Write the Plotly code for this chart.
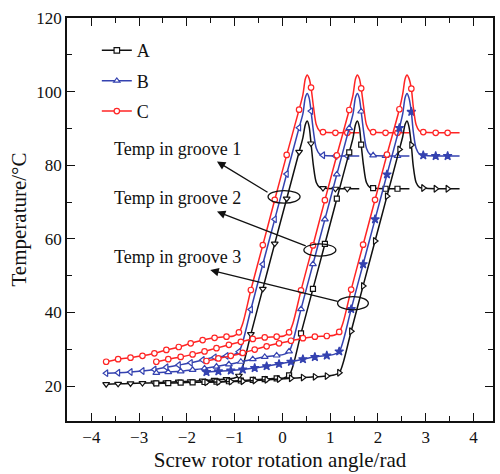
import plotly.graph_objects as go

# ---------------- data ----------------
# marker positions, groove 1/2/3 (rotation angle, rad)
X1 = [-3.69, -3.44, -3.18, -2.93, -2.68, -2.43, -2.17, -1.92, -1.67, -1.42, -1.17,
      -0.91, -0.66, -0.41, -0.16, 0.09, 0.35, 0.60, 0.85, 1.11, 1.36]
X2 = [-2.64, -2.39, -2.13, -1.88, -1.63, -1.38, -1.12, -0.87, -0.62, -0.37, -0.12,
      0.14, 0.39, 0.64, 0.89, 1.14, 1.40, 1.65, 1.90, 2.16, 2.41]
X3 = [-1.59, -1.34, -1.08, -0.83, -0.58, -0.33, -0.07, 0.18, 0.43, 0.68, 0.93,
      1.19, 1.44, 1.69, 1.94, 2.19, 2.45, 2.70, 2.95, 3.21, 3.46]

# temperatures at the markers (degC)
A1 = [20.5, 20.6, 20.7, 20.8, 20.9, 21.0, 21.2, 21.3, 21.5, 21.7, 21.9,
      22.8, 34.1, 46.4, 58.7, 70.9, 83.6, 85.9, 73.8, 73.6, 73.6]
B1 = [23.5, 23.6, 23.8, 24.1, 24.5, 25.1, 25.7, 26.3, 27.1, 27.8, 28.2,
      29.3, 40.8, 53.1, 65.3, 77.6, 90.2, 94.7, 82.7, 82.5, 82.5]
C1 = [26.6, 27.3, 27.7, 28.2, 28.9, 29.8, 30.6, 31.6, 32.5, 33.1, 33.4,
      34.6, 46.1, 58.3, 70.6, 82.8, 95.1, 101.1, 89.0, 88.8, 88.8]

A2 = [20.7, 20.8, 20.9, 21.0, 21.1, 21.2, 21.3, 21.5, 21.7, 21.9, 22.1,
      22.9, 34.3, 46.4, 58.6, 70.9, 83.5, 85.6, 73.8, 73.6, 73.6]
B2 = [23.6, 23.8, 24.0, 24.4, 24.8, 25.3, 25.9, 26.6, 27.3, 27.9, 28.3,
      29.4, 40.9, 53.1, 65.3, 77.5, 90.1, 94.6, 82.7, 82.5, 82.5]
C2 = [26.6, 27.3, 27.9, 28.6, 29.4, 30.3, 31.2, 32.0, 32.8, 33.2, 33.4,
      34.6, 46.0, 58.2, 70.5, 82.7, 95.0, 100.9, 89.0, 88.8, 88.8]

A3 = [21.0, 21.1, 21.2, 21.3, 21.5, 21.7, 21.9, 22.1, 22.3, 22.5, 22.7,
      23.6, 34.9, 47.2, 59.4, 71.6, 84.3, 85.5, 73.8, 73.6, 73.6]
B3 = [23.8, 24.0, 24.2, 24.5, 24.9, 25.4, 26.0, 26.6, 27.3, 27.9, 28.3,
      29.4, 40.9, 53.1, 65.3, 77.5, 90.1, 94.5, 82.7, 82.5, 82.5]
C3 = [26.8, 27.5, 28.2, 29.0, 29.9, 30.8, 31.6, 32.3, 33.0, 33.4, 33.6,
      34.7, 46.2, 58.4, 70.6, 82.9, 95.2, 100.8, 89.0, 88.8, 88.8]

# extra curve points without markers (knee, peak, end of each groove curve)
S1 = [-1.02, -0.83, 0.43, 0.48, 0.52, 0.56, 0.65, 0.71, 0.78, 1.61]
S2 = [0.03, 0.22, 1.48, 1.53, 1.57, 1.61, 1.70, 1.76, 1.83, 2.66]
S3 = [1.08, 1.27, 2.52, 2.57, 2.61, 2.65, 2.74, 2.80, 2.87, 3.71]
A1s = [22.1, 25.3, 87.5, 91.0, 92.0, 90.5, 79.8, 75.3, 74.0, 73.6]
B1s = [28.5, 32.0, 94.0, 98.4, 99.5, 98.3, 89.2, 84.6, 83.0, 82.5]
C1s = [33.6, 37.0, 99.2, 103.4, 104.5, 103.6, 96.0, 91.0, 89.3, 88.8]
A2s = [22.2, 25.4, 87.5, 91.0, 92.0, 90.5, 79.8, 75.3, 74.0, 73.6]
B2s = [28.6, 32.1, 94.0, 98.4, 99.5, 98.3, 89.2, 84.6, 83.0, 82.5]
C2s = [33.6, 37.0, 99.2, 103.4, 104.5, 103.6, 96.0, 91.0, 89.3, 88.8]
A3s = [23.0, 26.2, 87.8, 91.1, 92.0, 90.5, 79.8, 75.3, 74.0, 73.6]
B3s = [28.6, 32.1, 94.0, 98.4, 99.5, 98.3, 89.2, 84.6, 83.0, 82.5]
C3s = [33.8, 37.2, 99.4, 103.5, 104.5, 103.6, 96.0, 91.0, 89.3, 88.8]

series_names = ["A", "B", "C"]
groove_labels = ["Temp in groove 1", "Temp in groove 2", "Temp in groove 3"]
x_ticks = [-4, -3, -2, -1, 0, 1, 2, 3, 4]
y_ticks = [20, 40, 60, 80, 100, 120]

# ---------------- styling ----------------
BLACK = "#111111"
BLUE = "#3442b0"
RED = "#ff2424"
FONT = "Liberation Serif"

fig = go.Figure()


def add_curve(xm, ym, xs, ys, color, symbol, msize, mfill):
    pts = sorted(zip(list(xm) + list(xs), list(ym) + list(ys)))
    fig.add_trace(go.Scatter(
        x=[p[0] for p in pts], y=[p[1] for p in pts], mode="lines",
        line=dict(color=color, width=1.5, shape="spline", smoothing=0.8),
        showlegend=False, hoverinfo="skip"))
    fig.add_trace(go.Scatter(
        x=xm, y=ym, mode="markers",
        marker=dict(symbol=symbol, size=msize, color=mfill,
                    line=dict(color=color, width=1.2)),
        showlegend=False))


curves = [
    (X1, A1, S1, A1s, BLACK, "triangle-down", 6, "white"),
    (X1, B1, S1, B1s, BLUE, "triangle-left", 6, "white"),
    (X1, C1, S1, C1s, RED, "circle", 5.5, "white"),
    (X2, A2, S2, A2s, BLACK, "square", 5, "white"),
    (X2, B2, S2, B2s, BLUE, "triangle-up", 6, "white"),
    (X2, C2, S2, C2s, RED, "circle", 5.5, "white"),
    (X3, A3, S3, A3s, BLACK, "triangle-right", 6, "white"),
    (X3, B3, S3, B3s, BLUE, "star", 6.5, BLUE),
    (X3, C3, S3, C3s, RED, "circle", 5.5, "white"),
]
for c in curves:
    add_curve(*c)

# legend entries
for name, color, symbol in zip(series_names, [BLACK, BLUE, RED],
                               ["square", "triangle-up", "circle"]):
    fig.add_trace(go.Scatter(
        x=[None], y=[None], mode="lines+markers", name=name, legendgroup=name,
        line=dict(color=color, width=1.5),
        marker=dict(symbol=symbol, size=5.5, color="white",
                    line=dict(color=color, width=1.2))))

# ellipses around the groove curves
ellipses = [(-0.30, 0.37, 69.7, 73.1), (0.45, 1.12, 55.3, 58.6), (1.155, 1.80, 40.7, 44.3)]
for x0, x1, y0, y1 in ellipses:
    fig.add_shape(type="circle", xref="x", yref="y", x0=x0, x1=x1, y0=y0, y1=y1,
                  line=dict(color=BLACK, width=1.3))

# arrows and labels
arrows = [((-1.37, 81.0), (-0.28, 72.4)),
          ((-1.37, 67.4), (0.52, 57.9)),
          ((-1.51, 51.5), (1.19, 42.9))]
label_pos = [(-2.2, 84.3), (-2.2, 71.0), (-2.2, 55.1)]
for (head, tail), lab, pos in zip(arrows, groove_labels, label_pos):
    fig.add_annotation(x=head[0], y=head[1], ax=tail[0], ay=tail[1],
                       xref="x", yref="y", axref="x", ayref="y", text="",
                       showarrow=True, arrowhead=2, arrowsize=1.3, arrowwidth=1.3,
                       arrowcolor=BLACK, standoff=0, startstandoff=0)
    fig.add_annotation(x=pos[0], y=pos[1], xref="x", yref="y", text=lab,
                       showarrow=False, xanchor="center", yanchor="middle",
                       font=dict(family=FONT, size=18, color=BLACK))

axis_common = dict(
    showline=True, linecolor=BLACK, linewidth=1.5, mirror="ticks",
    ticks="inside", ticklen=8, tickwidth=1.3, tickcolor=BLACK,
    showgrid=False, zeroline=False,
    tickfont=dict(family=FONT, size=17, color=BLACK),
)

fig.update_xaxes(
    range=[-4.51, 4.41], tickmode="array", tickvals=x_ticks,
    minor=dict(ticks="inside", ticklen=5, tickwidth=1.2, tickcolor=BLACK, dtick=0.5, tick0=0),
    title=dict(text="Screw rotor rotation angle/rad", standoff=6,
               font=dict(family=FONT, size=21, color=BLACK)),
    **axis_common)
fig.update_yaxes(
    range=[10.5, 120], tickmode="array", tickvals=y_ticks,
    minor=dict(ticks="inside", ticklen=5, tickwidth=1.2, tickcolor=BLACK, dtick=10, tick0=0),
    title=dict(text="Temperature/°C", standoff=4,
               font=dict(family=FONT, size=21, color=BLACK)),
    **axis_common)

fig.update_layout(
    width=500, height=474,
    margin=dict(l=67, r=7, t=18, b=53, autoexpand=False),
    paper_bgcolor="white", plot_bgcolor="white",
    showlegend=True,
    legend=dict(x=0.07, y=0.965, xanchor="left", yanchor="top",
                bgcolor="rgba(0,0,0,0)", font=dict(family=FONT, size=18, color=BLACK),
                traceorder="grouped", tracegroupgap=4, itemwidth=30),
)

fig.write_html("out.html")
